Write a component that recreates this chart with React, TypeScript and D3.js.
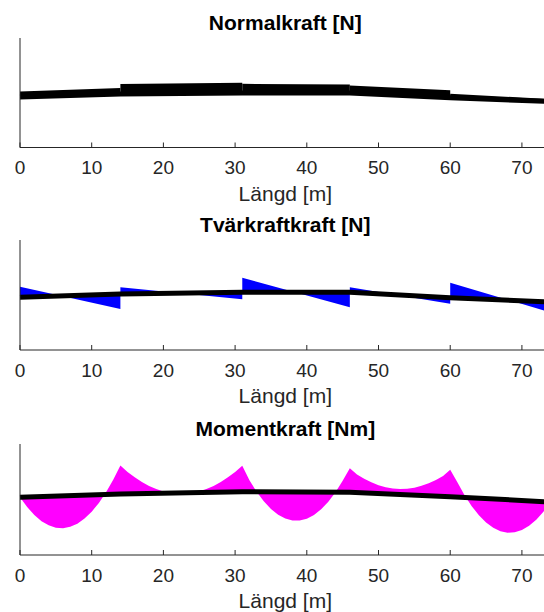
import * as d3 from 'd3';

// supports along the beam [m]
const spanX = [0, 14, 31, 46, 60, 74];
const xTicks = [0, 10, 20, 30, 40, 50, 60, 70];

// beam centre line, read as height above the x-axis in each panel
const beamNormal = [50.5, 53.5, 54.5, 54.5, 49.8, 45.9];
const beamShear = [52.8, 56, 57.7, 57.7, 52.3, 48.0];
const beamMoment = [57.7, 61, 63.3, 62.7, 58.3, 53.0];

// normal force, start/end of each span, offset from the beam
const normalX = [0, 14, 14, 31, 31, 46, 46, 60, 60, 74];
const normalVal = [5.5, 6.1, 9.9, 10.2, 9.2, 8.5, 7.5, 7.5, 4, 2.5];

// shear force, start/end of each span, offset from the beam
const shearX = [0, 14, 14, 31, 31, 46, 46, 60, 60, 74];
const shearVal = [10.5, -15, 6.7, -7, 14.6, -15, 5, -6, 15, -10.5];

// bending moment, offset from the beam (negative = below)
const momentX = [
  0, 1, 2, 3, 4, 5, 6, 7, 8, 9, 10, 11, 12, 13, 14,
  15, 16, 17, 18, 19, 20, 21, 22, 23, 24, 25, 26, 27, 28, 29, 30, 31,
  32, 33, 34, 35, 36, 37, 38, 39, 40, 41, 42, 43, 44, 45, 46,
  47, 48, 49, 50, 51, 52, 53, 54, 55, 56, 57, 58, 59, 60,
  61, 62, 63, 64, 65, 66, 67, 68, 69, 70, 71, 72, 73, 74,
];
const momentVal = [
  0, -10, -18.2, -24.6, -29, -31.6, -32.4, -31.2, -28.3, -23.4, -16.7, -8.2, 2.2, 14.5, 28.5,
  21.9, 16.4, 11.5, 7.5, 4.3, 1.8, 0.1, -0.8, -1, -0.3, 1.1, 3.3, 6.3, 10.1, 14.6, 19.9, 26,
  11.4, 0, -9.5, -17.1, -22.8, -26.6, -28.5, -28.5, -26.6, -22.8, -17.1, -9.5, 0, 11.4, 24,
  18.2, 14.2, 10.9, 8.4, 6.7, 5.7, 5.5, 6.1, 7.4, 9.6, 12.4, 16.1, 20.5, 27,
  14.8, 2.3, -8.3, -17.1, -23.9, -28.8, -31.9, -33, -32.2, -29.6, -25, -18.6, -10.2, 0,
];

const titles = ['Normalkraft [N]', 'Tvärkraftkraft [N]', 'Momentkraft [Nm]'];
const xLabel = 'Längd [m]';

const W = 544;
const H = 612;
const tops = [38, 240, 444];
const bottoms = [147.5, 350, 555];
const axisColor = '#262626';
const font = '"Liberation Sans", Arial, Helvetica, sans-serif';

const x = d3.scaleLinear().domain([0, 74]).range([20, 550.6]);

type Fill = { xs: number[]; vals: number[]; color: string; pairs: boolean };

function Panel({ idx, beam, fill }: { idx: number; beam: number[]; fill: Fill }) {
  const top = tops[idx];
  const bottom = bottoms[idx];
  const y = d3.scaleLinear().domain([0, 110]).range([bottom, bottom - 110]);
  const beamAt = d3.scaleLinear().domain(spanX).range(beam);

  const area = d3
    .area<[number, number]>()
    .x((d) => x(d[0]))
    .y0((d) => y(beamAt(d[0])))
    .y1((d) => y(beamAt(d[0]) + d[1]));

  const pts: [number, number][] = fill.xs.map((v, i) => [v, fill.vals[i]]);
  const pieces: [number, number][][] = fill.pairs
    ? d3.range(0, pts.length, 2).map((i) => [pts[i], pts[i + 1]])
    : [pts];

  const line = d3
    .line<number>()
    .x((d, i) => x(spanX[i]))
    .y((d) => y(d));

  return (
    <g>
      {pieces.map((p, i) => (
        <path key={i} d={area(p) ?? ''} fill={fill.color} stroke="none" />
      ))}
      <path d={line(beam) ?? ''} fill="none" stroke="#000" strokeWidth={5} />
      <line x1={x(0)} x2={x(0)} y1={top} y2={bottom} stroke={axisColor} strokeWidth={1} />
      <line x1={x(0)} x2={W + 10} y1={bottom} y2={bottom} stroke={axisColor} strokeWidth={1} />
      {xTicks.map((t) => (
        <g key={t}>
          <line x1={x(t)} x2={x(t)} y1={bottom} y2={bottom - 5} stroke={axisColor} strokeWidth={1} />
          <text
            x={x(t)}
            y={bottom + 26.5}
            textAnchor="middle"
            fontSize={19}
            fill={axisColor}
            fontFamily={font}
          >
            {t}
          </text>
        </g>
      ))}
      <text
        x={(x(0) + x(74)) / 2}
        y={bottom + 53}
        textAnchor="middle"
        fontSize={21}
        fill={axisColor}
        fontFamily={font}
      >
        {xLabel}
      </text>
      <text
        x={(x(0) + x(74)) / 2}
        y={top - 8}
        textAnchor="middle"
        fontSize={21}
        fontWeight="bold"
        fill="#000"
        fontFamily={font}
      >
        {titles[idx]}
      </text>
    </g>
  );
}

export default function App() {
  return (
    <svg
      width={W}
      height={H}
      style={{ position: 'absolute', left: 0, top: 0, background: '#fff' }}
    >
      <Panel
        idx={0}
        beam={beamNormal}
        fill={{ xs: normalX, vals: normalVal, color: '#000', pairs: true }}
      />
      <Panel
        idx={1}
        beam={beamShear}
        fill={{ xs: shearX, vals: shearVal, color: '#0000ff', pairs: true }}
      />
      <Panel
        idx={2}
        beam={beamMoment}
        fill={{ xs: momentX, vals: momentVal, color: '#ff00ff', pairs: false }}
      />
    </svg>
  );
}
